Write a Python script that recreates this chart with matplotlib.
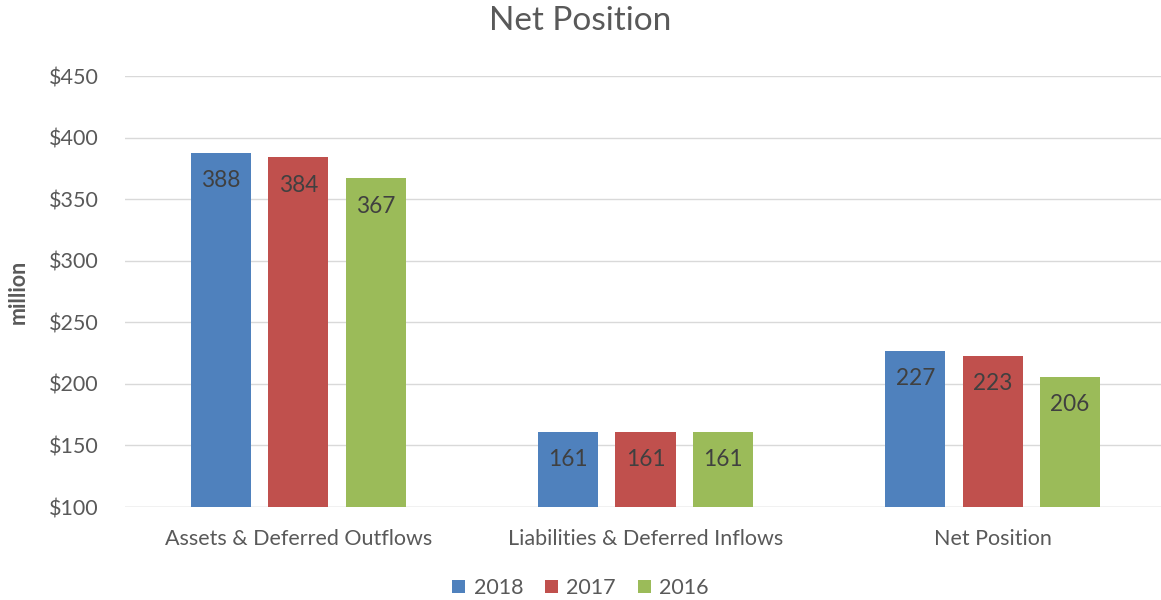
import numpy as np
import matplotlib.pyplot as plt

plt.rcParams['font.family'] = ['Lato', 'DejaVu Sans']

categories = ['Assets & Deferred Outflows', 'Liabilities & Deferred Inflows', 'Net Position']
years = ['2018', '2017', '2016']
v2018 = [388, 161, 227]
v2017 = [384, 161, 223]
v2016 = [367, 161, 206]
colors = ['#4F81BD', '#C0504D', '#9BBB59']
txt = '#595959'

fig = plt.figure(figsize=(11.61, 6), dpi=100)
ax = fig.add_axes([0.1075, 0.155, 0.897, 0.718])

x = np.arange(len(categories))
w = 0.173
step = 0.2225
for i, (vals, yr) in enumerate(zip([v2018, v2017, v2016], years)):
    bars = ax.bar(x + (i - 1) * step, np.array(vals) - 100, w, bottom=100,
                  color=colors[i], label=yr, zorder=2)
    for b, v in zip(bars, vals):
        ax.annotate(str(v), (b.get_x() + b.get_width() / 2, v),
                    xytext=(0, -28), textcoords='offset pixels',
                    ha='center', va='center', fontsize=16.3, color='#404040')

ax.set_ylim(100, 450)
ax.set_xlim(-0.5, 2.5)
ax.set_yticks(range(100, 451, 50))
ax.set_yticklabels(['$%d' % t for t in range(100, 451, 50)])
ax.set_xticks(x)
ax.set_xticklabels(categories)
ax.tick_params(axis='both', length=0, labelsize=15.5, colors=txt)
ax.tick_params(axis='y', pad=19)
ax.tick_params(axis='x', pad=16)
ax.grid(axis='y', color='#D9D9D9', linewidth=1, zorder=0)
for s in ax.spines.values():
    s.set_visible(False)
ax.axhline(100, color='#D9D9D9', linewidth=1, zorder=1)

ax.set_ylabel('million', fontsize=15.5, fontweight='bold', color=txt, labelpad=14)
fig.suptitle('Net Position', fontsize=24, color=txt, y=0.99)

fig.legend(loc='lower center', ncol=3, frameon=False, fontsize=15.5,
           labelcolor=txt, handlelength=0.6, handleheight=0.6,
           handletextpad=0.4, columnspacing=1.0, borderpad=0.2,
           bbox_to_anchor=(0.5, -0.022))

fig.savefig('out.png', dpi=100)
